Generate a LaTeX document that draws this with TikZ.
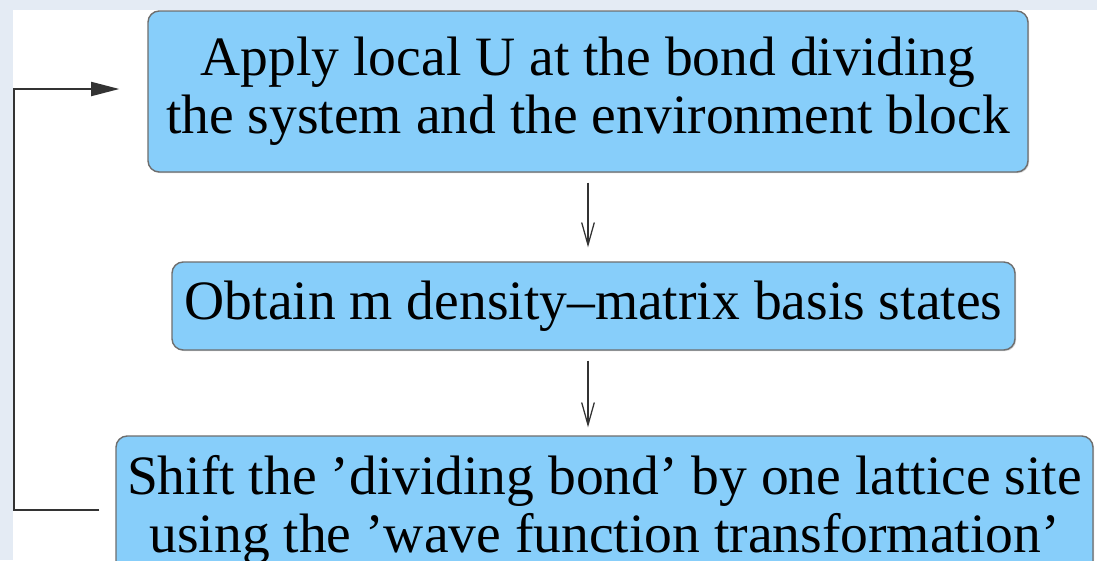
\documentclass[tikz,border=0pt]{standalone}
\usepackage{fontspec}
\setmainfont{Liberation Serif}
\usetikzlibrary{arrows.meta, positioning, calc, shadows}
\definecolor{skyfill}{HTML}{87CEFA}
\definecolor{edgegray}{HTML}{6E6E6E}
\definecolor{bgblue}{HTML}{E4EBF4}
\definecolor{dkline}{HTML}{333333}

\begin{document}
\begin{tikzpicture}[
  x=0.025cm, y=-0.025cm,
  stage/.style={
    draw=edgegray, line width=1pt, fill=skyfill, rounded corners=8pt,
    align=center, inner sep=0pt, font=\fontsize{39.5}{41.5}\selectfont,
    drop shadow={shadow xshift=0.8pt, shadow yshift=-0.8pt, opacity=0.35}
  },
  arr/.style={-{Straight Barb[length=16pt, width=9pt]}, line width=0.9pt, dkline},
  loop/.style={-{Triangle[length=20pt, width=10pt]}, line width=1.2pt, dkline},
]

\useasboundingbox (0,0) rectangle (1097,560);
\clip (0,0) rectangle (1097,560);

% Background
\fill[bgblue] (0,0) rectangle (1097,560);
\fill[white] (13,10) rectangle (1097,560);

% Stages
\node[stage, minimum width=880*0.025cm, minimum height=161*0.025cm] (s1) at (588,91.5)
  {Apply local U at the bond dividing\\
   the system and the environment block};

\node[stage, minimum width=843*0.025cm, minimum height=88*0.025cm] (s2) at (593.5,306)
  {Obtain m density--matrix basis states};

\node[stage, minimum width=977*0.025cm, minimum height=148*0.025cm] (s3) at (604.5,510)
  {Shift the 'dividing bond' by one lattice site\\
   using the 'wave function transformation'};

% Arrows
\draw[arr, shorten <=10*0.025cm, shorten >=14*0.025cm]
  (s1.south) -- (s1.south |- s2.north);
\draw[arr, shorten <=10*0.025cm, shorten >=8*0.025cm]
  (s1.south |- s2.south) -- (s1.south |- s3.north);

% Feedback loop
\coordinate (fb-out) at ($(s3.west)+(-16,0)$);
\coordinate (fb-in) at ($(s1.west)+(-28,-2.5)$);
\draw[loop] (fb-out) -- ++(-85,0) |- (fb-in);

\end{tikzpicture}
\end{document}
